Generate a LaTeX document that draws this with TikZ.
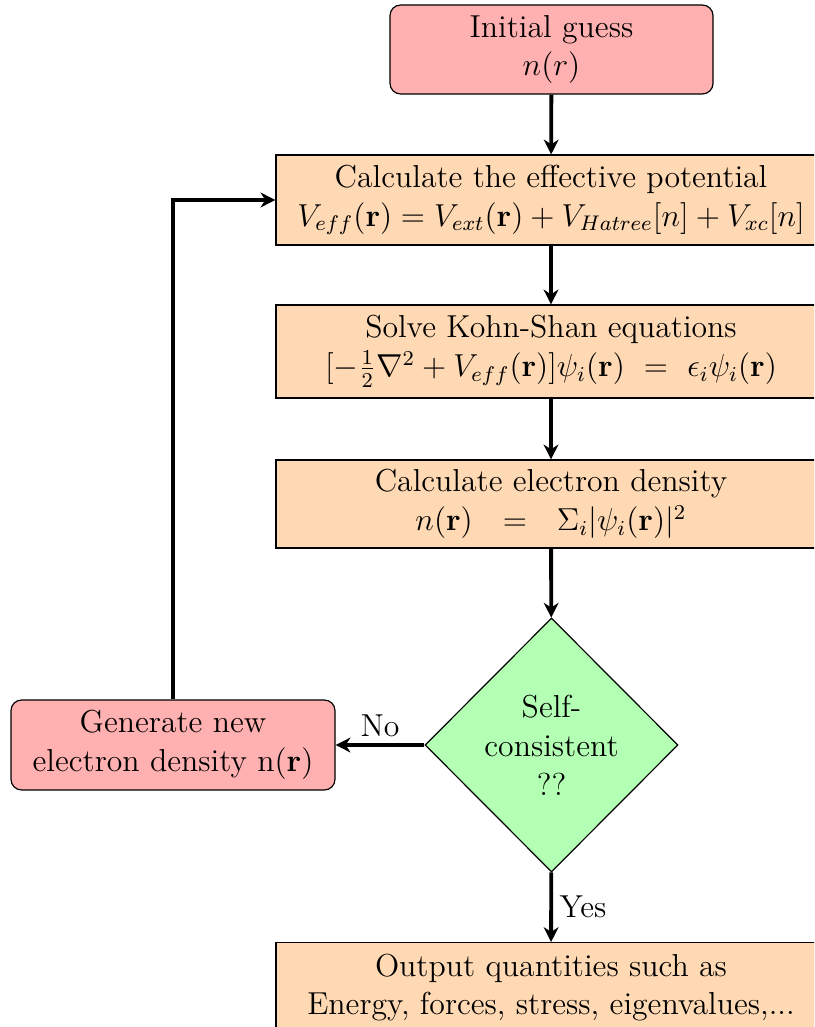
\documentclass[tikz,border=0pt]{standalone}
\usetikzlibrary{shapes.geometric,arrows.meta}
\newlength\pxu
\setlength\pxu{0.378pt}
\definecolor{boxorange}{RGB}{255,217,179}
\definecolor{boxpink}{RGB}{255,176,176}
\definecolor{boxgreen}{RGB}{179,255,179}
\tikzset{
  txt/.style={font=\fontsize{12}{14.7}\selectfont},
  startbox/.style={txt, draw=black, fill=boxpink, rounded corners=4pt, align=center, line width=0.45pt},
  procbox/.style={txt, draw=black, fill=boxorange, align=center, line width=0.45pt,
    minimum width=550\pxu, inner xsep=2pt},
  decbox/.style={txt, diamond, draw=black, fill=boxgreen, align=center, line width=0.45pt,
    minimum width=253\pxu, minimum height=254\pxu, inner sep=0pt},
  flow/.style={line width=1.45pt, -{Stealth[length=5.6pt,width=5.6pt,inset=1.8pt]}},
  lbl/.style={txt, inner sep=2.5pt}
}
\begin{document}
\begin{tikzpicture}[x=\pxu, y=-\pxu]
\useasboundingbox (0,0) rectangle (814,1027);
\clip (0,0) rectangle (814,1027);

\node[startbox, minimum width=323\pxu, minimum height=89\pxu] (init) at (551.5,49.5)
  {Initial guess\\ $n(r)$};
\node[procbox, minimum height=90\pxu] (eff) at (551,200)
  {Calculate the effective potential\\
   $V_{eff}(\mathbf{r}) = V_{ext}(\mathbf{r}) + V_{Hatree}[n] + V_{xc}[n]$};
\node[procbox, minimum height=93\pxu] (ks) at (551,351.5)
  {Solve Kohn-Shan equations\\
   $[-\frac{1}{2}\nabla^2 + V_{eff}(\mathbf{r})]\psi_i(\mathbf{r}) \ = \ \epsilon_i\psi_i(\mathbf{r})$};
\node[procbox, minimum height=88\pxu] (dens) at (551,504)
  {Calculate electron density\\
   $n(\mathbf{r})\hspace{8pt}=\hspace{8pt}\Sigma_i|\psi_i(\mathbf{r})|^2$};
\node[decbox] (sc) at (551.5,745) {Self-\\consistent\\??};
\node[startbox, minimum width=324\pxu, minimum height=90\pxu] (gen) at (173,745)
  {Generate new\\ electron density n($\mathbf{r}$)};
\node[procbox, minimum height=90\pxu, anchor=north] (out) at (551,942)
  {Output quantities such as\\ Energy, forces, stress, eigenvalues,...};

\draw[flow] (init) -- (eff);
\draw[flow] (eff) -- (ks);
\draw[flow] (ks) -- (dens);
\draw[flow] (dens) -- (sc);
\draw[flow] (sc) -- node[lbl, above] {No} (gen);
\draw[flow] (sc) -- node[lbl, right] {Yes} (out);
\draw[flow] (gen.north) |- (eff.west);
\end{tikzpicture}
\end{document}
